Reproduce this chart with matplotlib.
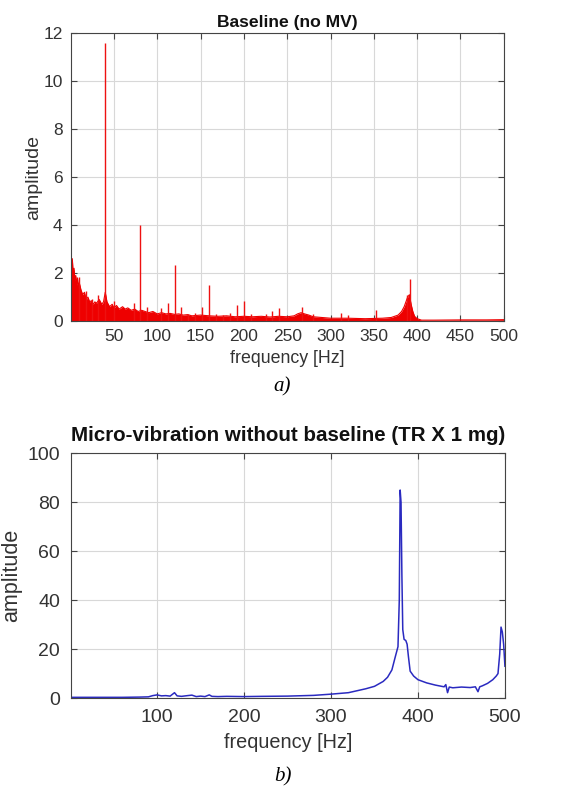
import matplotlib.pyplot as plt

# a) baseline spectrum: noise floor envelope + discrete spikes
noise_f = [0, 1, 2, 3, 4, 5, 6, 7, 8, 9, 10, 12, 14, 16, 18, 20, 22, 24, 26, 28,
           30, 33, 36, 38, 40, 42, 45, 48, 50, 53, 56, 60, 63, 66, 70, 74, 78, 82, 86, 90,
           95, 100, 105, 110, 115, 120, 125, 130, 135, 140, 150, 160, 170, 180, 190, 200,
           210, 220, 230, 240, 250, 258, 262, 266, 270, 275, 280, 290, 300, 320,
           340, 360, 370, 378, 382, 385, 387, 389, 391, 393, 395, 397, 400, 405, 420, 450, 480, 500]
noise_a = [2.7, 2.4, 2.6, 2.0, 2.2, 1.7, 1.9, 1.5, 1.8, 1.4, 1.6, 1.3, 1.1, 1.2, 0.9, 1.0, 0.8, 0.85, 0.7, 0.8,
           0.75, 0.9, 0.7, 0.8, 1.2, 0.8, 0.6, 0.7, 0.55, 0.65, 0.5, 0.6, 0.5, 0.55, 0.45, 0.5, 0.4, 0.45, 0.4, 0.35,
           0.4, 0.3, 0.35, 0.3, 0.32, 0.28, 0.3, 0.25, 0.27, 0.22, 0.25, 0.22, 0.2, 0.22, 0.18, 0.2,
           0.18, 0.2, 0.17, 0.2, 0.18, 0.22, 0.3, 0.35, 0.3, 0.25, 0.18, 0.15, 0.12, 0.12,
           0.1, 0.12, 0.15, 0.25, 0.4, 0.6, 0.8, 1.0, 1.1, 0.7, 0.4, 0.2, 0.1, 0.04, 0.04, 0.05, 0.05, 0.06]
spike_f = [10, 18, 25, 32, 40, 50, 73, 80, 88, 104, 113, 120, 128, 136, 144, 152, 160, 168, 176,
           184, 192, 200, 208, 225, 232, 240, 267, 280, 312, 320, 353, 388, 392]
spike_a = [1.85, 1.25, 0.9, 1.1, 11.6, 0.85, 0.75, 4.0, 0.6, 0.55, 0.75, 2.35, 0.6, 0.3, 0.35, 0.6, 1.5, 0.3, 0.25,
           0.35, 0.65, 0.85, 0.3, 0.3, 0.4, 0.55, 0.6, 0.3, 0.35, 0.25, 0.45, 1.1, 1.75]

# b) micro-vibration without baseline
mv_f = [1, 20, 40, 60, 80, 90, 95, 100, 105, 110, 115, 120, 123, 128, 135, 140, 145, 150, 155, 160,
        163, 170, 180, 200, 220, 250, 280, 300, 320, 330, 340, 350, 360, 365, 370, 374, 377, 378.5, 379.5, 380.5,
        381.5, 382.5, 384, 386, 387.5, 389, 391, 395, 400, 410, 420, 430, 432, 434, 436, 440, 450, 460, 466, 469,
        471, 474, 480, 486, 490, 492, 494, 495.5, 497, 498.5, 500]
mv_a = [0.3, 0.3, 0.3, 0.3, 0.4, 0.5, 1.0, 1.3, 0.9, 1.0, 0.8, 2.2, 0.9, 0.7, 1.0, 1.2, 0.6, 0.8, 0.6, 1.3,
        0.7, 0.6, 0.7, 0.6, 0.7, 0.8, 1.1, 1.6, 2.2, 3.0, 3.8, 4.8, 6.8, 8.5, 11.5, 17, 21, 40, 85, 80,
        50, 28, 24, 23.5, 22, 17, 11, 9, 7.5, 6.2, 5.3, 4.6, 5.5, 2.2, 4.5, 4.2, 4.5, 4.3, 4.6, 2.6,
        4.6, 5.0, 6.0, 7.5, 9, 10, 18, 29, 27, 22, 13]

txt = '#333333'
plt.rcParams['font.family'] = ['Liberation Sans', 'DejaVu Sans']

fig = plt.figure(figsize=(5.65, 7.87), dpi=100)


def style(ax, fs, pad):
    ax.grid(True, color='#d8d8d8', linewidth=0.8)
    ax.set_axisbelow(True)
    ax.tick_params(direction='in', length=4, top=True, right=True, labelsize=fs,
                   colors='#444444', labelcolor=txt, pad=pad)
    for s in ax.spines.values():
        s.set_color('#444444')
        s.set_linewidth(0.8)


ax1 = fig.add_axes([0.1257, 0.592, 0.766, 0.366])
ax1.fill_between(noise_f, 0, noise_a, color='#ee0000', linewidth=0)
ax1.plot(noise_f, noise_a, color='#ee0000', linewidth=0.8)
ax1.vlines(spike_f, 0, spike_a, color='#ee1111', linewidth=1.0)
ax1.set_xlim(0.5, 500)
ax1.set_ylim(0, 12)
ax1.set_xticks(range(50, 501, 50))
ax1.set_yticks(range(0, 13, 2))
style(ax1, 12.5, 6)
ax1.set_title('Baseline (no MV)', fontsize=12.6, fontweight='bold', color='#111111', pad=4)
ax1.set_xlabel('frequency [Hz]', fontsize=12.8, color=txt, labelpad=4)
ax1.set_ylabel('amplitude', fontsize=14, color=txt, labelpad=1)
fig.text(0.5, (787 - 387) / 787, 'a)', ha='center', va='center', fontsize=15,
         style='italic', family='Liberation Serif')

ax2 = fig.add_axes([0.1257, 0.113, 0.768, 0.311])
ax2.plot(mv_f, mv_a, color='#2a2ac0', linewidth=1.1)
ax2.set_xlim(1, 500)
ax2.set_ylim(0, 100)
ax2.set_xticks(range(100, 501, 100))
ax2.set_yticks(range(0, 101, 20))
style(ax2, 14, 8)
ax2.set_title('Micro-vibration without baseline (TR X 1 mg)', fontsize=14.75, fontweight='bold',
              color='#111111', pad=9)
ax2.set_xlabel('frequency [Hz]', fontsize=14.3, color=txt, labelpad=5)
ax2.set_ylabel('amplitude', fontsize=15.5, color=txt, labelpad=4)
fig.text(0.5, (787 - 777) / 787, 'b)', ha='center', va='center', fontsize=15,
         style='italic', family='Liberation Serif')

fig.savefig('out.png', dpi=100)
